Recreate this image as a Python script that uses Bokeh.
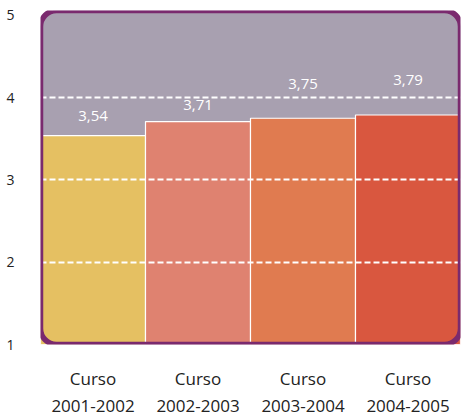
from bokeh.plotting import figure
from bokeh.models import ColumnDataSource, BoxAnnotation, FixedTicker
from bokeh.core.properties import value
from bokeh.embed import file_html
from bokeh.resources import INLINE

# data
courses = ["Curso\n2001-2002", "Curso\n2002-2003", "Curso\n2003-2004", "Curso\n2004-2005"]
scores = [3.54, 3.71, 3.75, 3.79]
y_ticks = [1, 2, 3, 4, 5]

# styling
bar_colors = ["#e5c062", "#df8270", "#e07b50", "#d9573f"]
label_dy = [-20, -17, -34, -35]
FONT = "Open Sans"

src = ColumnDataSource(dict(
    x=courses,
    top=scores,
    color=bar_colors,
    txt=[f"{v:.2f}".replace(".", ",") for v in scores],
    dy=label_dy,
))

p = figure(width=463, height=420, x_range=courses, y_range=(1, 5.06),
           output_backend="svg", toolbar_location=None,
           min_border_left=40, min_border_right=3, min_border_top=10, min_border_bottom=65)
p.outline_line_color = None
p.background_fill_color = "white"
p.border_fill_color = "white"

# rounded gray panel
p.add_layout(BoxAnnotation(fill_color="#a8a0b0", fill_alpha=1, line_color=None,
                           border_radius=16, level="underlay"))

p.vbar(x="x", top="top", bottom=1, width=1.0, fill_color="color",
       line_color="white", line_width=1.2, source=src)

p.text(x="x", y="top", text="txt", y_offset="dy", text_color="white",
       text_font=value(FONT), text_font_size="15px", text_align="center",
       text_baseline="middle", source=src)

# dashed grid over bars
p.xgrid.grid_line_color = None
p.ygrid.ticker = FixedTicker(ticks=[2, 3, 4])
p.ygrid.grid_line_color = "white"
p.ygrid.grid_line_width = 2.2
p.ygrid.grid_line_dash = "6 3"
p.ygrid.level = "overlay"

# purple rounded border
p.add_layout(BoxAnnotation(fill_color=None, fill_alpha=0, line_color="#7a2a6e",
                           line_alpha=1, line_width=5.5, border_radius=16, level="overlay"))

p.yaxis.ticker = FixedTicker(ticks=y_ticks)
p.yaxis.axis_line_color = None
p.yaxis.major_tick_line_color = None
p.yaxis.minor_tick_line_color = None
p.yaxis.major_label_text_font = FONT
p.yaxis.major_label_text_font_size = "14px"
p.yaxis.major_label_text_color = "#222222"
p.yaxis.major_label_standoff = 20

p.xaxis.axis_line_color = None
p.xaxis.major_tick_line_color = None
p.xaxis.major_label_text_font = FONT
p.xaxis.major_label_text_font_size = "17px"
p.xaxis.major_label_text_color = "#222222"
p.xaxis.major_label_standoff = 16

open("out.html", "w").write(file_html(p, INLINE))
